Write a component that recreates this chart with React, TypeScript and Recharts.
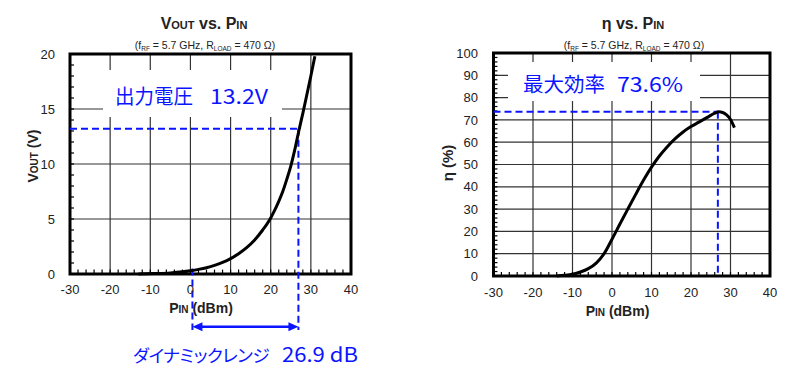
import React from 'react';
import { LineChart, Line, XAxis, YAxis, CartesianGrid, ReferenceLine, ReferenceArea } from 'recharts';

// Vout vs Pin (fRF = 5.7 GHz, RLOAD = 470 ohm)
const pinV = [-13, -9, -5, -2, 0, 2, 4, 6, 8, 10, 12, 14, 16, 18, 20, 21, 22, 23, 24, 25, 26, 27, 28, 29, 30, 31];
const vout = [0, 0.04, 0.1, 0.2, 0.3, 0.42, 0.57, 0.78, 1.05, 1.4, 1.85, 2.4, 3.1, 4.0, 5.1, 5.8, 6.6, 7.5, 8.6, 9.8, 11.3, 13.0, 14.6, 16.3, 18.0, 19.8];

// efficiency vs Pin
const pinE = [-14, -12, -10, -8, -6, -4, -2, 0, 2, 4, 6, 8, 10, 12, 14, 16, 18, 20, 22, 24, 26, 27, 28, 29, 30, 31];
const eff = [0, 0.3, 0.8, 1.8, 3.3, 5.8, 10, 16.5, 23.3, 30, 36.6, 43, 48.8, 53.8, 58, 61.6, 64.6, 67, 69, 71, 73, 73.6, 73.3, 72.2, 70.2, 66.5];

const xTicks = [-30, -20, -10, 0, 10, 20, 30, 40];
const voutTicks = [0, 5, 10, 15, 20];
const effTicks = [0, 10, 20, 30, 40, 50, 60, 70, 80, 90, 100];

// annotation values
const vMark = 13.2;
const rangeStart = 0.5;
const rangeEnd = 26.9;
const effMax = 73.6;
const effMaxPin = 26.8;
const belowAxisV = -5.1;
const arrowV = -4.8;

const range = (a: number, b: number, s: number) => {
  const out: number[] = [];
  for (let v = a; v <= b + 1e-9; v += s) out.push(v);
  return out;
};
const minorX = range(-28, 38, 2);
const minorV = range(1, 19, 1);
const minorE = range(2, 98, 2);

const voutData = pinV.map((p, i) => ({ p, v: vout[i] }));
const effData = pinE.map((p, i) => ({ p, e: eff[i] }));

const BLUE = '#0a14ff';
const FONT = '"Liberation Sans", Arial, sans-serif';
const JP = '"Noto Sans CJK JP", sans-serif';
const tickStyle = { fill: '#222', fontSize: 13, fontFamily: FONT };

const ArrowShape = (p: any) => {
  const { x1, y1, x2, y2 } = p;
  const h = 10;
  const w = 4.5;
  return (
    <g>
      <line x1={x1 + h - 1} y1={y1} x2={x2 - h + 1} y2={y2} stroke={BLUE} strokeWidth={2.5} />
      <path d={`M${x1},${y1} L${x1 + h},${y1 - w} L${x1 + h},${y1 + w} Z`} fill={BLUE} />
      <path d={`M${x2},${y2} L${x2 - h},${y2 - w} L${x2 - h},${y2 + w} Z`} fill={BLUE} />
    </g>
  );
};

const dash = { stroke: BLUE, strokeWidth: 2, strokeDasharray: '7 4' };
const minorTick = { stroke: '#000', strokeWidth: 1.2 };

const App: React.FC = () => {
  return (
    <div style={{ position: 'absolute', left: 0, top: 0, width: 800, height: 381, background: '#fff', overflow: 'hidden' }}>
      {/* left: Vout */}
      <div style={{ position: 'absolute', left: 0, top: 0 }}>
        <LineChart width={400} height={381} data={voutData} margin={{ top: 54, right: 49, left: 30, bottom: 77 }}>
          <CartesianGrid stroke="#333" strokeWidth={1.2} />
          <XAxis dataKey="p" type="number" domain={[-30, 40]} ticks={xTicks} height={30} tickLine={false} axisLine={false} tickSize={0} tickMargin={11} tick={tickStyle} interval={0} />
          <YAxis type="number" domain={[0, 20]} ticks={voutTicks} width={40} tickLine={false} axisLine={false} tickSize={0} tickMargin={15} tick={tickStyle} interval={0} />
          {minorX.map((x) => (
            <ReferenceLine key={'mx' + x} segment={[{ x, y: 0 }, { x, y: 0.4 }]} {...minorTick} ifOverflow="visible" />
          ))}
          {minorV.map((y) => (
            <ReferenceLine key={'my' + y} segment={[{ x: -30, y }, { x: -29, y }]} {...minorTick} ifOverflow="visible" />
          ))}
          <ReferenceArea x1={-30} x2={40} y1={0} y2={20} fill="none" stroke="#000" strokeWidth={3} fillOpacity={0} ifOverflow="visible" />
          <ReferenceLine segment={[{ x: -30, y: vMark }, { x: rangeEnd, y: vMark }]} {...dash} ifOverflow="visible" />
          <ReferenceLine segment={[{ x: rangeEnd, y: vMark }, { x: rangeEnd, y: belowAxisV }]} {...dash} ifOverflow="visible" />
          <ReferenceLine segment={[{ x: rangeStart, y: 0.5 }, { x: rangeStart, y: belowAxisV }]} {...dash} ifOverflow="visible" />
          <ReferenceLine segment={[{ x: rangeStart, y: arrowV }, { x: rangeEnd, y: arrowV }]} ifOverflow="visible" shape={ArrowShape} stroke={BLUE} />
          <Line type="monotone" dataKey="v" stroke="#000" strokeWidth={3} dot={false} isAnimationActive={false} />
        </LineChart>
      </div>

      {/* right: efficiency */}
      <div style={{ position: 'absolute', left: 400, top: 0 }}>
        <LineChart width={400} height={381} data={effData} margin={{ top: 53, right: 30, left: 53.5, bottom: 75 }}>
          <CartesianGrid stroke="#333" strokeWidth={1.2} />
          <XAxis dataKey="p" type="number" domain={[-30, 40]} ticks={xTicks} height={30} tickLine={false} axisLine={false} tickSize={0} tickMargin={12} tick={tickStyle} interval={0} />
          <YAxis type="number" domain={[0, 100]} ticks={effTicks} width={40} tickLine={false} axisLine={false} tickSize={0} tickMargin={15.5} tick={tickStyle} interval={0} />
          {minorX.map((x) => (
            <ReferenceLine key={'mx' + x} segment={[{ x, y: 0 }, { x, y: 1.8 }]} {...minorTick} ifOverflow="visible" />
          ))}
          {minorE.map((y) => (
            <ReferenceLine key={'my' + y} segment={[{ x: -30, y }, { x: -29, y }]} {...minorTick} ifOverflow="visible" />
          ))}
          <ReferenceArea x1={-30} x2={40} y1={0} y2={100} fill="none" stroke="#000" strokeWidth={3} fillOpacity={0} ifOverflow="visible" />
          <ReferenceLine segment={[{ x: -30, y: effMax }, { x: effMaxPin, y: effMax }]} {...dash} ifOverflow="visible" />
          <ReferenceLine segment={[{ x: effMaxPin, y: effMax }, { x: effMaxPin, y: 0 }]} {...dash} ifOverflow="visible" />
          <Line type="monotone" dataKey="e" stroke="#000" strokeWidth={3} dot={false} isAnimationActive={false} />
        </LineChart>
      </div>

      {/* titles, axis names, annotations */}
      <svg width={800} height={381} style={{ position: 'absolute', left: 0, top: 0, pointerEvents: 'none' }}>
        <g fontFamily={FONT} fill="#222" fontWeight="bold">
          <text x={204} y={28.5} textAnchor="middle" fontSize={16}>
            V<tspan fontSize={11}>OUT</tspan> vs. P<tspan fontSize={11}>IN</tspan>
          </text>
          <text x={633} y={28.5} textAnchor="middle" fontSize={16}>
            η vs. P<tspan fontSize={11}>IN</tspan>
          </text>
          <text x={201} y={313} textAnchor="middle" fontSize={14}>
            P<tspan fontSize={10}>IN</tspan> (dBm)
          </text>
          <text x={617.5} y={316} textAnchor="middle" fontSize={14}>
            P<tspan fontSize={10}>IN</tspan> (dBm)
          </text>
          <text transform="translate(38,156) rotate(-90)" textAnchor="middle" fontSize={14}>
            V<tspan fontSize={10}>OUT</tspan> (V)
          </text>
          <text transform="translate(453,163) rotate(-90)" textAnchor="middle" fontSize={15}>
            η (%)
          </text>
        </g>
        <g fontFamily={FONT} fill="#222" fontSize={10.5}>
          <text x={205} y={49} textAnchor="middle">
            (f<tspan fontSize={6.5} dy={2}>RF</tspan><tspan dy={-2}> = 5.7 GHz, R</tspan><tspan fontSize={6.5} dy={2}>LOAD</tspan><tspan dy={-2}> = 470 Ω)</tspan>
          </text>
          <text x={634} y={49} textAnchor="middle">
            (f<tspan fontSize={6.5} dy={2}>RF</tspan><tspan dy={-2}> = 5.7 GHz, R</tspan><tspan fontSize={6.5} dy={2}>LOAD</tspan><tspan dy={-2}> = 470 Ω)</tspan>
          </text>
        </g>
        <rect x={103} y={70} width={179} height={47} fill="#fff" />
        <rect x={508} y={62} width={192} height={39} fill="#fff" />
        <g fontFamily={JP} fill={BLUE} fontSize={20}>
          <text x={115} y={104} textLength={78} lengthAdjust="spacingAndGlyphs">出力電圧</text>
          <text x={210} y={104} textLength={58} lengthAdjust="spacingAndGlyphs">13.2V</text>
          <text x={523} y={92} textLength={82} lengthAdjust="spacingAndGlyphs">最大効率</text>
          <text x={617} y={92} textLength={66} lengthAdjust="spacingAndGlyphs">73.6%</text>
          <text x={133} y={362} fontSize={17.5} style={{ fontFeatureSettings: '"palt"' }} letterSpacing={-0.4}>ダイナミックレンジ</text>
          <text x={282} y={362} textLength={76} lengthAdjust="spacingAndGlyphs">26.9 dB</text>
        </g>
      </svg>
    </div>
  );
};

export default App;
